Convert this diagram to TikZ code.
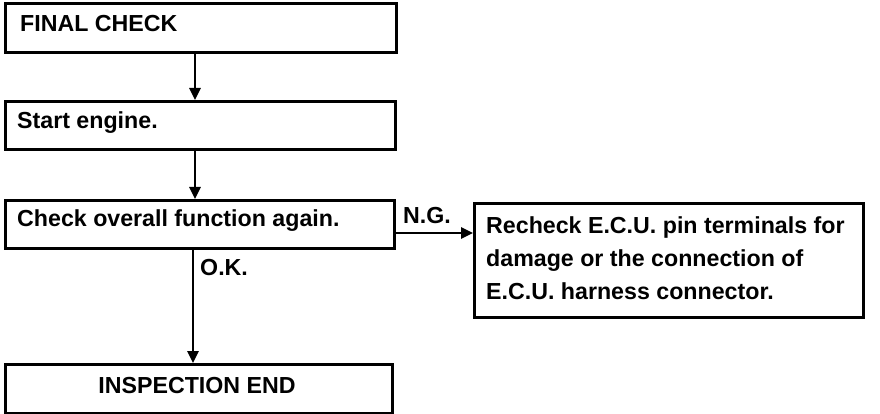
\documentclass[tikz,border=0pt]{standalone}
\usepackage{fontspec}
\setmainfont{Liberation Sans}
\usetikzlibrary{arrows.meta}
\tikzset{
  box/.style={draw=black, line width=3pt, rectangle, inner xsep=0pt, inner ysep=0pt, anchor=north west},
  txt/.style={font=\bfseries\fontsize{23.2}{33}\selectfont, inner sep=0pt},
  arr/.style={line width=2.5pt, -{Triangle[length=12pt,width=11pt]}},
}
\begin{document}
\begin{tikzpicture}[x=1pt,y=-1pt]
\useasboundingbox (0,0) rectangle (880,414);
% boxes
\node[box, minimum width=391pt, minimum height=49pt] (b1) at (4,2) {};
\node[box, minimum width=390pt, minimum height=48pt] (b2) at (4,100) {};
\node[box, minimum width=389pt, minimum height=48pt] (b3) at (4,199) {};
\node[box, minimum width=389pt, minimum height=114pt] (b4) at (473,202) {};
\node[box, minimum width=387pt, minimum height=49pt] (b5) at (4,363) {};
% texts
\node[txt, anchor=west] (t1) at (20,24) {FINAL CHECK};
\node[txt, anchor=west] (t2) at (17,123) {Start engine.};
\node[txt, anchor=west] (t3) at (17,221) {Check overall function again.};
\node[txt, anchor=north west, align=left] (t4) at (486,216) {Recheck E.C.U. pin terminals for\\damage or the connection of\\E.C.U. harness connector.};
\node[txt] (t5) at (197,386) {INSPECTION END};
\node[txt, anchor=west] (ng) at (403,216) {N.G.};
\node[txt, anchor=west] (ok) at (200,268) {O.K.};
% connectors
\coordinate (ax) at (195,0);
\coordinate (bx) at (193,0);
\coordinate (ay) at (0,233);
\draw[arr] (b1.south -| ax) -- (b2.north -| ax);
\draw[arr] (b2.south -| ax) -- (b3.north -| ax);
\draw[arr] (b3.south -| bx) -- (b5.north -| bx);
\draw[arr] (b3.east |- ay) -- (b4.west |- ay);
\end{tikzpicture}
\end{document}
